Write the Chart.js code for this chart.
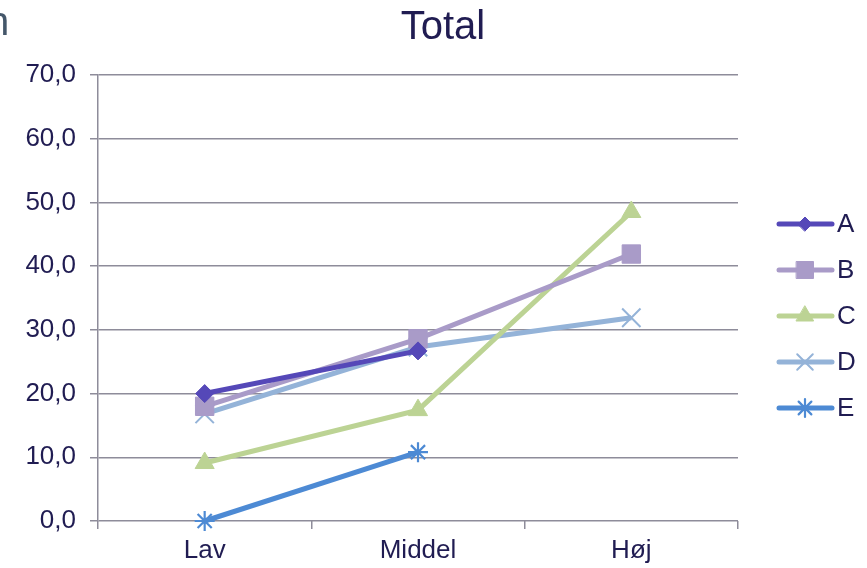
<!DOCTYPE html>
<html>
<head>
<meta charset="utf-8">
<script src="https://cdn.jsdelivr.net/npm/chart.js@4/dist/chart.umd.min.js"></script>
<style>
  body { margin: 0; background: #fff; }
  #wrap { position: relative; width: 867px; height: 568px; overflow: hidden; }
  #cut { position: absolute; left: -13px; top: 1px; font: 40px/40px "Liberation Sans", Arial, sans-serif; color: #44576a; }
</style>
</head>
<body>
<div id="wrap">
  <canvas id="totalChart"></canvas>
  <div id="cut">n</div>
</div>
<script>
// chart values
const categories = ['Lav', 'Middel', 'Høj'];
const seriesNames = ['A', 'B', 'C', 'D', 'E'];
const valuesA = [20.0, 26.7, null];
const valuesB = [18.0, 28.6, 41.9];
const valuesC = [9.1, 17.4, 48.5];
const valuesD = [16.8, 27.3, 31.9];
const valuesE = [0.0, 10.8, null];
const yTicks = [0, 10, 20, 30, 40, 50, 60, 70];

const navy = '#201c52';
const gridColor = '#8e8c9a';
const font = '"Liberation Sans", Arial, sans-serif';

// style per series: colour, marker, marker size in plot and legend
const looks = [
    { color: '#5548b8', point: 'rectRot', r: 9, lr: 7, bw: 1 },
    { color: '#a99bc8', point: 'rect', r: 13, lr: 12, bw: 1 },
    { color: '#bcd394', point: 'triangle', r: 11, lr: 10, bw: 1 },
    { color: '#94b3d8', point: 'crossRot', r: 13, lr: 11, bw: 2 },
    { color: '#4d8ad4', point: 'star', r: 10, lr: 9, bw: 2.2 },
];
const allValues = [valuesA, valuesB, valuesC, valuesD, valuesE];

const datasets = seriesNames.map((name, i) => ({
    label: name,
    data: allValues[i],
    borderColor: looks[i].color,
    backgroundColor: looks[i].color,
    borderWidth: 5,
    pointStyle: looks[i].point,
    pointRadius: looks[i].r,
    pointBorderWidth: looks[i].bw,
    pointBackgroundColor: looks[i].color,
    pointBorderColor: looks[i].color,
    tension: 0,
    clip: false,
}));

// title and legend drawn by hand to match the layout
const extras = {
    id: 'extras',
    afterDraw(chart) {
        const ctx = chart.ctx;
        ctx.save();
        ctx.fillStyle = navy;
        ctx.font = '40px ' + font;
        ctx.textAlign = 'center';
        ctx.textBaseline = 'middle';
        ctx.fillText('Total', 443, 28);

        ctx.font = '26px ' + font;
        ctx.textAlign = 'left';
        chart.data.datasets.forEach((ds, i) => {
            const y = 224 + i * 46;
            ctx.strokeStyle = ds.borderColor;
            ctx.lineWidth = 5;
            ctx.lineCap = 'round';
            ctx.beginPath();
            ctx.moveTo(779, y);
            ctx.lineTo(832, y);
            ctx.stroke();
            ctx.fillStyle = ds.borderColor;
            ctx.lineWidth = looks[i].bw;
            Chart.helpers.drawPoint(ctx, { pointStyle: ds.pointStyle, radius: looks[i].lr, rotation: 0, borderWidth: looks[i].bw }, 805, y);
            ctx.fillStyle = navy;
            ctx.fillText(ds.label, 837, y + 1);
        });
        ctx.restore();
    }
};

new Chart(document.getElementById('totalChart'), {
    type: 'line',
    data: { labels: categories, datasets: datasets },
    options: {
        responsive: true,
        maintainAspectRatio: false,
        animation: false,
        layout: { padding: { top: 75, right: 129, left: 0, bottom: 0 } },
        plugins: { legend: { display: false }, tooltip: { enabled: false }, title: { display: false } },
        scales: {
            x: {
                offset: true,
                grid: { offset: true, drawOnChartArea: false, drawTicks: true, tickLength: 8, color: gridColor, lineWidth: 1.5 },
                border: { display: false },
                ticks: { color: navy, font: { size: 26, family: font }, padding: 6, maxRotation: 0 },
                afterFit(scale) { scale.height = 47; }
            },
            y: {
                min: 0,
                max: 70,
                afterBuildTicks(scale) { scale.ticks = yTicks.map(v => ({ value: v })); },
                grid: { color: gridColor, lineWidth: 1.5, tickLength: 8 },
                border: { display: true, color: gridColor, width: 1.5 },
                ticks: {
                    color: navy,
                    font: { size: 26, family: font },
                    padding: 14,
                    callback: v => v.toFixed(1).replace('.', ',')
                },
                afterFit(scale) { scale.width = 98; }
            }
        }
    },
    plugins: [extras]
});
</script>
</body>
</html>
